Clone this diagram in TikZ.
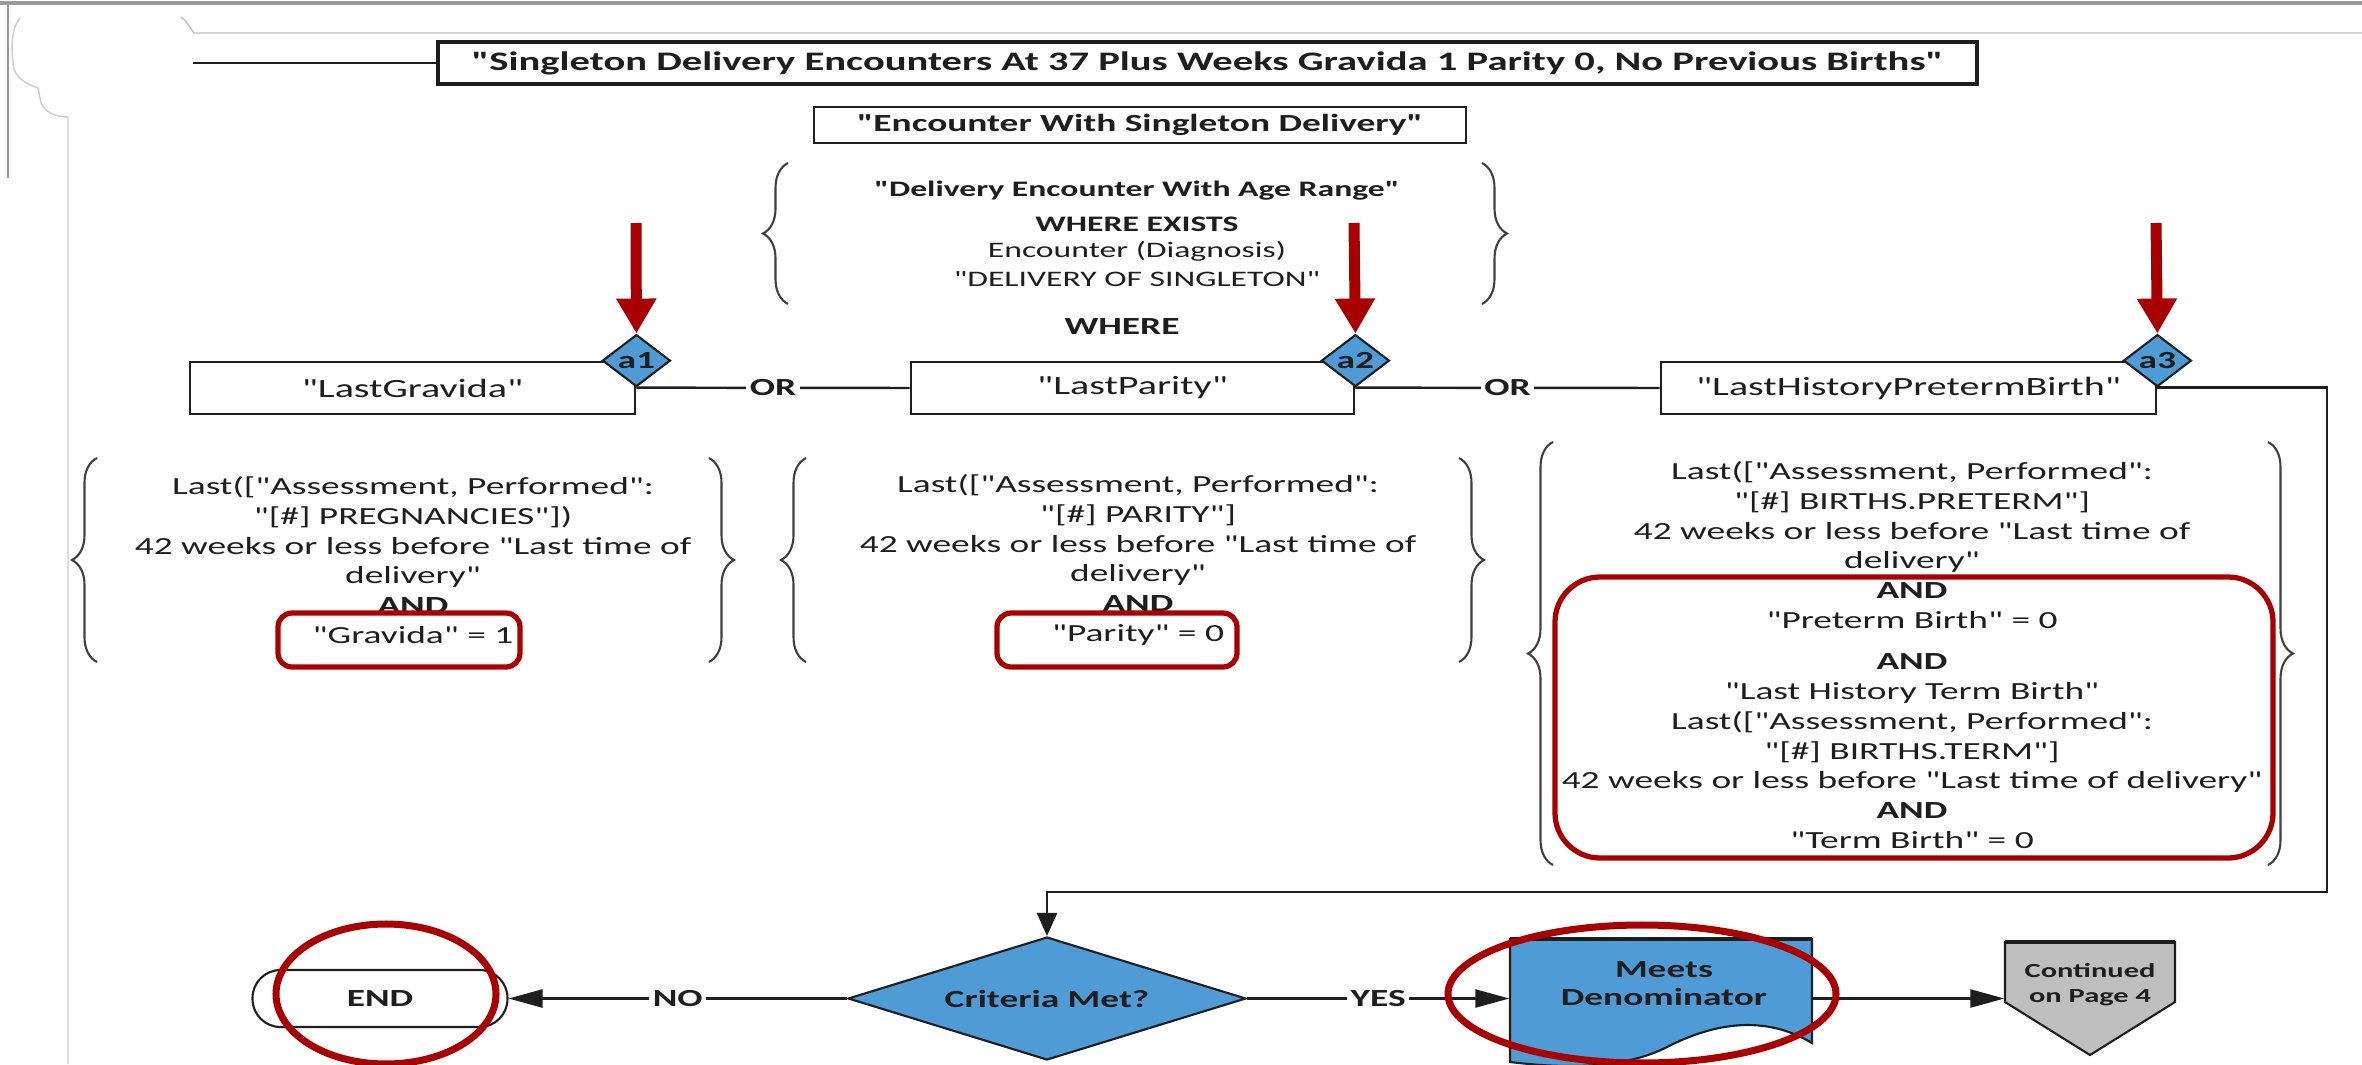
\documentclass[tikz,border=0pt]{standalone}
\usepackage{fontspec}
\setmainfont{Carlito}[FakeStretch=1.52]
\newfontfamily\carl{Carlito}[FakeStretch=1.52]
\usetikzlibrary{shapes.geometric,arrows.meta,decorations.pathreplacing}
\definecolor{myblue}{HTML}{4E9BD6}
\definecolor{myred}{HTML}{A80000}
\definecolor{mygray}{HTML}{BFBFBF}
\definecolor{ink}{HTML}{1E1E1E}
\tikzset{
  txt/.style={font=\carl\fontsize{7}{8.45}\selectfont, align=center, inner sep=0pt, text=ink},
  btxt/.style={font=\carl\bfseries\fontsize{7}{8}\selectfont, align=center, inner sep=0pt, text=ink},
  smtxt/.style={font=\carl\fontsize{6.3}{7}\selectfont, align=center, inner sep=0pt, text=ink},
  bx/.style={draw=ink, line width=0.8pt, fill=white, inner sep=0pt, font=\carl\fontsize{7.5}{9}\selectfont, text=ink},
  dia/.style={diamond, draw=ink, fill=myblue, line width=0.6pt, inner sep=0pt, font=\carl\bfseries\fontsize{7}{8}\selectfont, text=ink},
  conn/.style={draw=ink, line width=0.7pt},
  harr/.style={conn, -{Triangle[length=3.4mm,width=1.8mm]}},
  varr/.style={conn, -{Triangle[length=2.3mm,width=2mm]}},
  lab/.style={fill=white, inner sep=1pt, font=\carl\bfseries\fontsize{7}{8}\selectfont, text=ink},
  hl/.style={draw=myred, line width=1.5pt},
  brc/.style={decorate, decoration={brace, amplitude=2.5mm}, draw=ink!85, line width=0.6pt},
  redarr/.style={draw=myred, line width=1.1mm, -{Triangle[length=3.5mm,width=3.8mm]}},
}
\begin{document}
\begin{tikzpicture}[x=0.1mm,y=-0.1mm]
\useasboundingbox (0,0) rectangle (2362,1064);
\fill[white] (0,0) rectangle (2362,1064);

% faint page frame lines
\draw[black!40, line width=1.2pt] (0,3) -- (2362,3);
\draw[black!40, line width=0.8pt] (8,3) -- (8,178);
\draw[black!25, line width=0.4pt] (181,17) .. controls (188,22) and (190,28) .. (194,33) -- (2362,33);
\draw[black!20, line width=0.4pt] (20,18) .. controls (10,30) and (12,50) .. (13,63)
  .. controls (14,80) and (30,85) .. (38,88) -- (41,103)
  .. controls (45,112) and (55,117) .. (68,117) -- (68,1064);

% title
\node[bx, font=\carl\bfseries\fontsize{7.6}{9}\selectfont, line width=1.1pt,
      minimum width=153.9mm, minimum height=4.2mm] (title) at (1207.5,63)
  {"Singleton Delivery Encounters At 37 Plus Weeks Gravida 1 Parity 0, No Previous Births"};
\coordinate (tstart) at (193,63);
\draw[conn] (tstart) -- (title.west);

\node[bx, font=\carl\bfseries\fontsize{7}{8}\selectfont, minimum width=65.2mm, minimum height=3.6mm]
  (enc) at (1140,125) {"Encounter With Singleton Delivery"};

% top brace group
\draw[brc] (788,304) -- (788,163);
\draw[brc] (1482,163) -- (1482,304);
\node[smtxt, font=\carl\bfseries\fontsize{6.3}{7}\selectfont] (dq1) at (1137,191) {"Delivery Encounter With Age Range"};
\node[smtxt, font=\carl\bfseries\fontsize{6.3}{7}\selectfont] (dq2) at (1137,224) {WHERE EXISTS};
\node[smtxt] (dq3) at (1137,251) {Encounter (Diagnosis)};
\node[smtxt] (dq4) at (1137,279) {"DELIVERY OF SINGLETON"};
\node[btxt] (where) at (1122,327) {WHERE};

% criteria boxes
\node[bx, minimum width=44.5mm, minimum height=5.2mm] (lg) at (412.5,388) {"LastGravida"};
\node[bx, minimum width=44.3mm, minimum height=5.2mm] (lp) at (1132.5,388) {"LastParity"};
\node[bx, minimum width=49.5mm, minimum height=5.2mm] (lh) at (1908.5,388) {"LastHistoryPretermBirth"};

\node[dia, aspect=1.26, minimum width=6.8mm, minimum height=5.2mm] (d1) at (lg.north east) {a1};
\node[dia, aspect=1.26, minimum width=6.8mm, minimum height=5.2mm] (d2) at (lp.north east) {a2};
\node[dia, aspect=1.26, minimum width=6.8mm, minimum height=5.2mm] (d3) at (lh.north east) {a3};

\coordinate (r1) at (636,223);
\coordinate (r2) at (1354,223);
\coordinate (r3) at (2156,223);
\draw[redarr] (r1) -- (d1.north);
\draw[redarr] (r2) -- (d2.north);
\draw[redarr] (r3) -- (d3.north);

\draw[conn] (d1.south) -- node[lab]{OR} (lp.west);
\draw[conn] (d2.south) -- node[lab]{OR} (lh.west);

% condition groups
\draw[brc] (97,662) -- (97,458);
\draw[brc] (709,458) -- (709,662);
\node[txt] (g1) at (413,560) {Last(["Assessment, Performed":\\"[\#] PREGNANCIES"])\\42 weeks or less before "Last time of\\delivery"\\\textbf{AND}\\"Gravida" = 1};

\draw[brc] (806,662) -- (806,458);
\draw[brc] (1459,458) -- (1459,662);
\node[txt] (g2) at (1138,560) {Last(["Assessment, Performed":\\"[\#] PARITY"]\\42 weeks or less before "Last time of\\delivery"\\\textbf{AND}\\"Parity" = 0};

\draw[brc] (1553,865) -- (1553,442);
\draw[brc] (2268,442) -- (2268,865);
\node[txt] (g3) at (1912,655) {Last(["Assessment, Performed":\\"[\#] BIRTHS.PRETERM"]\\42 weeks or less before "Last time of\\delivery"\\\textbf{AND}\\"Preterm Birth" = 0\\[1.2mm]\textbf{AND}\\"Last History Term Birth"\\Last(["Assessment, Performed":\\"[\#] BIRTHS.TERM"]\\42 weeks or less before "Last time of delivery"\\\textbf{AND}\\"Term Birth" = 0};

\draw[hl, rounded corners=1.4mm] (278,613) rectangle (520,667);
\draw[hl, rounded corners=1.4mm] (997,613) rectangle (1237,667);
\draw[hl, rounded corners=4.5mm] (1555,577) rectangle (2273,858);

% bottom flow
\node[draw=ink, line width=0.6pt, rounded corners=2.8mm, minimum width=25.5mm, minimum height=5.7mm,
      inner sep=0pt, font=\carl\bfseries\fontsize{7}{8}\selectfont, text=ink] (endn) at (380,998.5) {END};
\node[dia, aspect=3.24, minimum width=39.8mm, minimum height=12.3mm] (crit) at (1047,998.5) {Criteria Met?};

\node[minimum width=30.2mm, minimum height=11.8mm, inner sep=0pt] (meets) at (1661,998.5) {};
\filldraw[fill=myblue, draw=ink, line width=0.6pt] (1510,939) -- (1812,939) -- (1812,1043)
  .. controls (1765,1015) and (1715,1022) .. (1665,1048)
  .. controls (1620,1070) and (1560,1068) .. (1510,1062) -- cycle;
\draw[ink, line width=1.1pt] (1510,939) -- (1812,939);
\node[btxt] (meetstxt) at (1664,984) {Meets\\Denominator};

\filldraw[fill=mygray, draw=ink, line width=0.6pt] (2005,942) -- (2175,942) -- (2175,1002) -- (2090,1055) -- (2005,1002) -- cycle;
\draw[ink, line width=1.1pt] (2005,942) -- (2175,942);
\node[minimum width=17mm, minimum height=11.3mm, inner sep=0pt] (cont) at (2090,998.5) {};
\node[btxt, font=\carl\bfseries\fontsize{5.7}{7.1}\selectfont] (conttxt) at (2090,985) {Continued\\on Page 4};

\draw[varr] (d3.south) -| (2327,892) -| (crit.north);
\draw[harr] (crit.west) -- node[lab]{NO} (endn.east);
\draw[harr] (crit.east) -- node[lab]{YES} (meets.west);
\draw[harr] (meets.east) -- (cont.west);

% highlight ellipses
\draw[myred, line width=2pt] (386,994) ellipse [x radius=110, y radius=70];
\draw[myred, line width=2pt] (1642,994) ellipse [x radius=194, y radius=69];
\end{tikzpicture}
\end{document}
